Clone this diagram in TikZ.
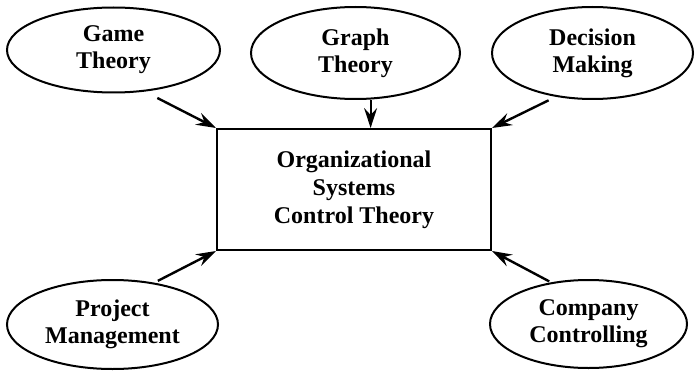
\documentclass[tikz,border=0pt]{standalone}
\usepackage{fontspec}
\setmainfont{Liberation Serif}
\usepackage{tikz}
\usetikzlibrary{shapes.geometric,arrows.meta}

\tikzset{
  topic/.style={draw, ellipse, line width=1pt, inner sep=0pt, align=center,
    font=\fontsize{12}{13.5}\selectfont\bfseries},
  core/.style={draw, rectangle, line width=1pt, inner sep=0pt, align=center,
    minimum width=137pt, minimum height=60.5pt,
    font=\fontsize{12}{14}\selectfont\bfseries},
  feed/.style={->, line width=1.2pt}
}

\begin{document}
\begin{tikzpicture}[x=0.5pt, y=0.5pt, >={Stealth[length=10pt, width=6.5pt, inset=3.5pt]}]
  \useasboundingbox (0,0) rectangle (695,370);
  % ---- the theory in the middle ----
  \node[core] (box) at (354,180.5) {Organizational\\Systems\\Control Theory};
  % ---- the five feeding fields ----
  \node[topic, minimum width=106.5pt, minimum height=42.5pt] (game) at (113.5,320) {Game\\Theory};
  \node[topic, minimum width=104.5pt, minimum height=46pt] (graph) at (355.5,317) {Graph\\Theory};
  \node[topic, minimum width=100.5pt, minimum height=46pt] (decision) at (592.5,317) {Decision\\Making};
  \node[topic, minimum width=105.5pt, minimum height=44.5pt] (project) at (112.5,45.5) {Project\\Management};
  \node[topic, minimum width=98.5pt, minimum height=44pt] (company) at (588.5,46) {Company\\Controlling};
  % ---- arrows into the box corners ----
  \draw[feed, shorten <=7pt] (game.-53) -- (box.north west);
  \draw[feed, line width=1pt] (graph.-72) -- (graph.-72 |- box.north);
  \draw[feed, shorten <=4pt] (decision.-130) -- (box.north east);
  \draw[feed, shorten <=2pt] (project.45) -- (box.south west);
  \draw[feed, shorten <=1pt] (company.132) -- (box.south east);
\end{tikzpicture}
\end{document}
